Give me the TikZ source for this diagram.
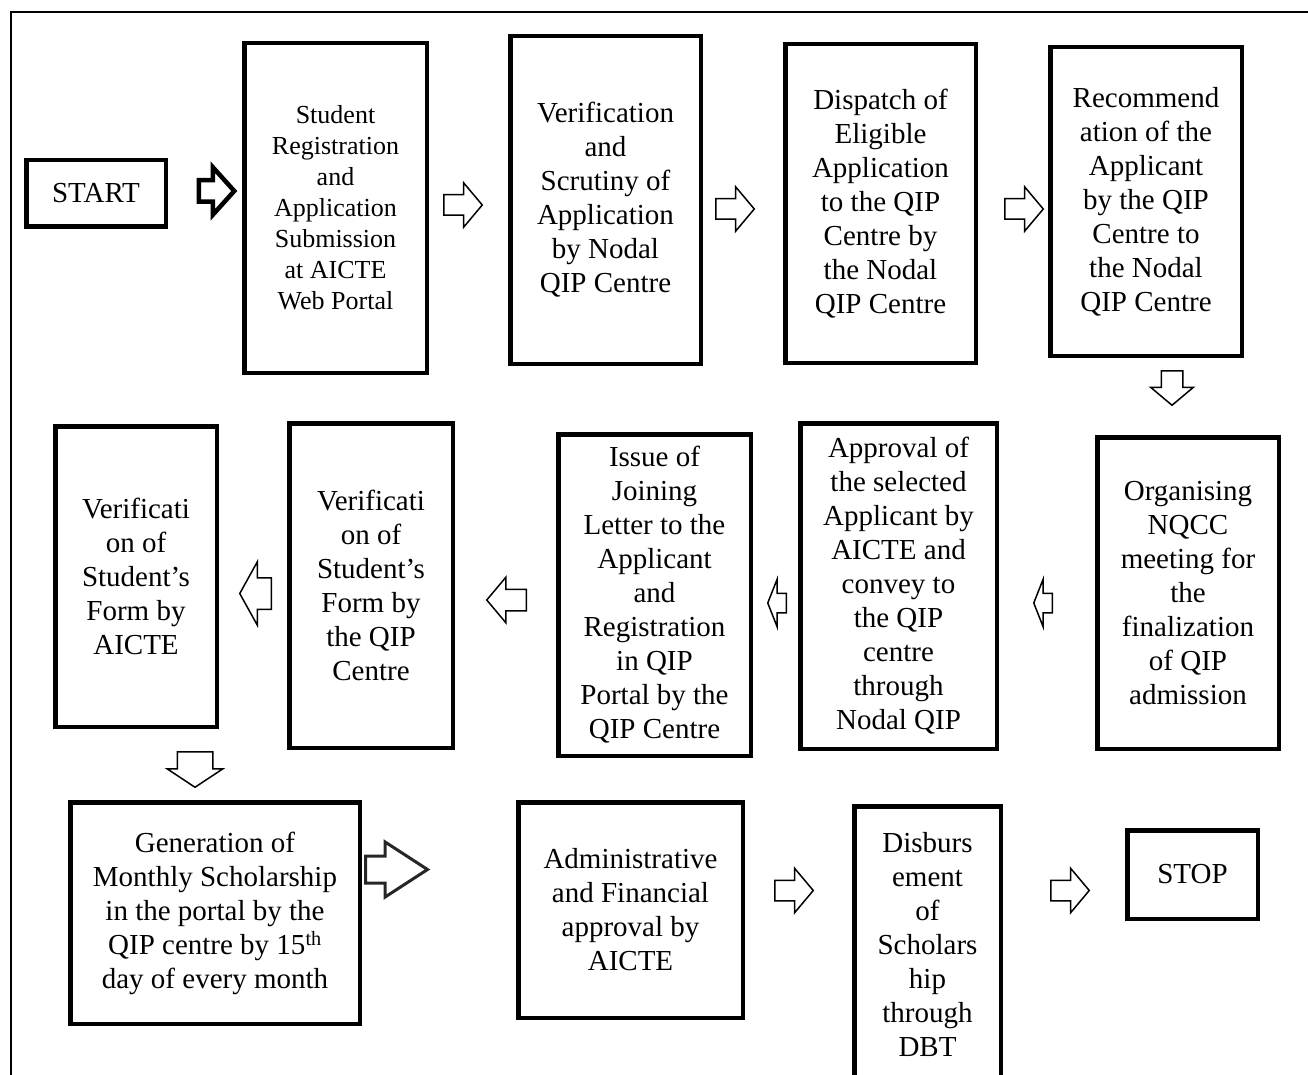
\documentclass[tikz,border=0pt]{standalone}
\usepackage{fontspec}
\setmainfont{Liberation Serif}
\usetikzlibrary{shapes,shapes.arrows,positioning}

\begin{document}
\begin{tikzpicture}[x=1pt,y=-1pt]

  \useasboundingbox (0,0) rectangle (1308,1075);
  \clip (0,0) rectangle (1308,1075);

  \coordinate (Start) at (96,193.5);
  \coordinate (Reg) at (335.5,208);
  \coordinate (Scrutiny) at (605.5,200);
  \coordinate (Dispatch) at (880.5,203.5);
  \coordinate (Recommend) at (1146,201.5);
  \coordinate (Nqcc) at (1188,593);
  \coordinate (Approval) at (898.5,586);
  \coordinate (Joining) at (654.5,595);
  \coordinate (FormQip) at (371,585.5);
  \coordinate (FormAicte) at (136,576.5);
  \coordinate (Monthly) at (215,913);
  \coordinate (Admin) at (630.5,910);
  \coordinate (Disburse) at (927.5,944.5);
  \coordinate (Stop) at (1192.5,874.5);

  \tikzstyle{pbox}=[draw=black,line width=4.5pt,
                    shape=rectangle,inner sep=2pt,
                    align=center,
                    font=\fontsize{29}{34}\selectfont];
  \tikzstyle{harrow}=[draw=black,line width=1.5pt,anchor=tail,
                    shape=single arrow,inner xsep=0pt,inner ysep=9.5pt,
                    single arrow head extend=12pt,
                    single arrow tip angle=100];
  \tikzstyle{varrow}=[harrow,inner xsep=10pt,inner ysep=0pt,
                    shape border rotate=270];

  % page frame
  \draw[line width=1.5pt] (11,1075) -- (11,12) -- (1308,12);

  % first row
  \node[pbox,minimum width=139.5pt,minimum height=66.5pt] (StartBox) at (Start) {START};

  \node[pbox,minimum width=182.5pt,minimum height=329.5pt,
        font=\fontsize{26}{31}\selectfont] (RegBox) at (Reg)
        {Student\\ Registration\\ and\\ Application\\ Submission\\ at AICTE\\ Web Portal};

  \node[pbox,minimum width=190.5pt,minimum height=327.5pt] (ScrutinyBox) at (Scrutiny)
        {Verification\\ and\\ Scrutiny of\\ Application\\ by Nodal\\ QIP Centre};

  \node[pbox,minimum width=190.5pt,minimum height=318.5pt] (DispatchBox) at (Dispatch)
        {Dispatch of\\ Eligible\\ Application\\ to the QIP\\ Centre by\\ the Nodal\\ QIP Centre};

  \node[pbox,minimum width=191.5pt,minimum height=308.5pt] (RecommendBox) at (Recommend)
        {Recommend\\ ation of the\\ Applicant\\ by the QIP\\ Centre to\\ the Nodal\\ QIP Centre};

  % second row
  \node[pbox,minimum width=181.5pt,minimum height=311.5pt] (NqccBox) at (Nqcc)
        {Organising\\ NQCC\\ meeting for\\ the\\ finalization\\ of QIP\\ admission};

  \node[pbox,minimum width=196.5pt,minimum height=325.5pt] (ApprovalBox) at (Approval)
        {Approval of\\ the selected\\ Applicant by\\ AICTE and\\ convey to\\ the QIP\\ centre\\ through\\ Nodal QIP};

  \node[pbox,minimum width=192.5pt,minimum height=321.5pt] (JoiningBox) at (Joining)
        {Issue of\\ Joining\\ Letter to the\\ Applicant\\ and\\ Registration\\ in QIP\\ Portal by the\\ QIP Centre};

  \node[pbox,minimum width=163.5pt,minimum height=324.5pt] (FormQipBox) at (FormQip)
        {Verificati\\ on of\\ Student’s\\ Form by\\ the QIP\\ Centre};

  \node[pbox,minimum width=161.5pt,minimum height=300.5pt] (FormAicteBox) at (FormAicte)
        {Verificati\\ on of\\ Student’s\\ Form by\\ AICTE};

  % third row
  \node[pbox,minimum width=289.5pt,minimum height=221.5pt] (MonthlyBox) at (Monthly)
        {Generation of\\ Monthly Scholarship\\ in the portal by the\\ QIP centre by 15\textsuperscript{th}\\ day of every month};

  \node[pbox,minimum width=224.5pt,minimum height=215.5pt] (AdminBox) at (Admin)
        {Administrative\\ and Financial\\ approval by\\ AICTE};

  \node[pbox,minimum width=146.5pt,minimum height=276.5pt] (DisburseBox) at (Disburse)
        {Disburs\\ ement\\ of\\ Scholars\\ hip\\ through\\ DBT};

  \node[pbox,minimum width=130.5pt,minimum height=88.5pt] (StopBox) at (Stop) {STOP};

  % block arrows (placed by their tail)
  \node[harrow,line width=4.5pt,minimum height=35.5pt,inner ysep=8.5pt,
        single arrow head extend=13pt,single arrow tip angle=96] (ArrStart) at (196.5,191) {};
  \node[harrow,minimum height=38.5pt] (ArrReg) at (443,205) {};
  \node[harrow,minimum height=38.5pt] (ArrScrutiny) at (715,209) {};
  \node[harrow,minimum height=38.5pt] (ArrDispatch) at (1004,209) {};
  \node[varrow,minimum height=34.5pt,single arrow head extend=10.5pt] (ArrRecommend) at (1172,370) {};
  \node[harrow,minimum height=18.5pt,inner ysep=9pt,single arrow head extend=14pt,
        single arrow tip angle=137,shape border rotate=180] (ArrNqcc) at (1053,603) {};
  \node[harrow,minimum height=18.5pt,inner ysep=9pt,single arrow head extend=14pt,
        single arrow tip angle=137,shape border rotate=180] (ArrApproval) at (787,603) {};
  \node[harrow,minimum height=39.5pt,inner ysep=10pt,
        shape border rotate=180] (ArrJoining) at (527,600) {};
  \node[harrow,minimum height=31.5pt,inner ysep=15pt,single arrow head extend=16pt,
        single arrow tip angle=122,shape border rotate=180] (ArrFormQip) at (272,593.5) {};
  \node[varrow,minimum height=35.5pt,inner xsep=17pt,single arrow head extend=10pt,
        single arrow tip angle=113] (ArrFormAicte) at (195,751) {};
  \node[harrow,line width=3pt,draw=black!85,minimum height=62pt,inner ysep=12pt,
        single arrow head extend=14pt,single arrow tip angle=66] (ArrMonthly) at (364,869.5) {};
  \node[harrow,minimum height=38.5pt] (ArrAdmin) at (774,890.5) {};
  \node[harrow,minimum height=38.5pt] (ArrDisburse) at (1050,890.5) {};

\end{tikzpicture}
\end{document}
